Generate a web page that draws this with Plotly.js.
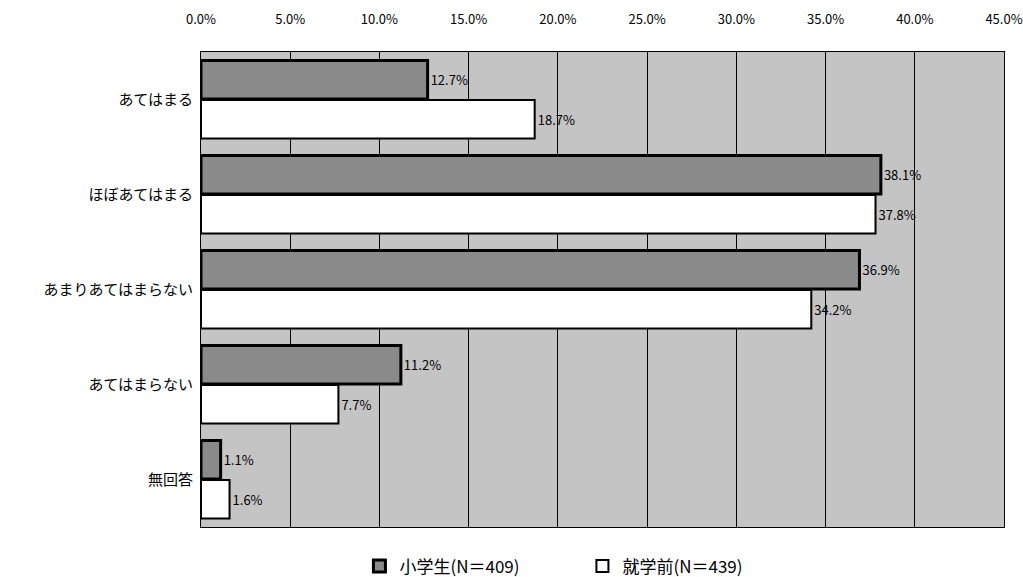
<!DOCTYPE html>
<html><head><meta charset="utf-8">
<script src="https://cdn.plot.ly/plotly-3.0.1.min.js"></script>
<style>html,body{margin:0;padding:0;background:#fff}#chart{width:1023px;height:577px}</style>
</head><body><div id="chart"></div>
<script>
const categories = ["あてはまる", "ほぼあてはまる", "あまりあてはまらない", "あてはまらない", "無回答"];
const elementary = [12.7, 38.1, 36.9, 11.2, 1.1];
const preschool = [18.7, 37.8, 34.2, 7.7, 1.6];
const seriesNames = ["小学生(N＝409)", "就学前(N＝439)"];
const tickVals = [0, 5, 10, 15, 20, 25, 30, 35, 40, 45];
const tickText = tickVals.map(v => v.toFixed(1) + "%");
const font = "'Noto Sans CJK JP', 'DejaVu Sans', sans-serif";

const traces = [
  {type: "bar", orientation: "h", name: seriesNames[0], y: categories, x: elementary,
   marker: {color: "#8a8a8a", line: {color: "#000", width: 3}},
   text: elementary.map(v => v.toFixed(1) + "%"), textposition: "outside",
   textfont: {size: 13, color: "#000", family: font}, cliponaxis: false},
  {type: "bar", orientation: "h", name: seriesNames[1], y: categories, x: preschool,
   marker: {color: "#ffffff", line: {color: "#000", width: 2}},
   text: preschool.map(v => v.toFixed(1) + "%"), textposition: "outside",
   textfont: {size: 13, color: "#000", family: font}, cliponaxis: false}
];

const layout = {
  width: 1023, height: 577,
  margin: {l: 201, r: 19, t: 52, b: 50, autoexpand: false},
  paper_bgcolor: "#fff", plot_bgcolor: "#c4c4c4",
  barmode: "group", bargap: 0.17, bargroupgap: 0.02,
  font: {family: font, color: "#000"},
  xaxis: {side: "top", range: [0, 45], tickvals: tickVals, ticktext: tickText,
          showgrid: true, gridcolor: "#000", gridwidth: 1, zeroline: false,
          showline: true, linecolor: "#000", linewidth: 1, mirror: true,
          tickfont: {size: 13, color: "#000"}, ticks: "", ticklabelstandoff: 22},
  yaxis: {autorange: "reversed", tickfont: {size: 15, color: "#000"},
          showline: true, linecolor: "#000", linewidth: 1, mirror: true,
          ticks: "", ticklabelstandoff: 4, showgrid: false},
  showlegend: true,
  legend: {orientation: "h", x: 0.475, xanchor: "center", y: -0.045, yanchor: "top",
           font: {size: 17, color: "#000"}, itemwidth: 30, entrywidth: 178}
};
Plotly.newPlot("chart", traces, layout, {displayModeBar: false, staticPlot: true});
</script></body></html>
